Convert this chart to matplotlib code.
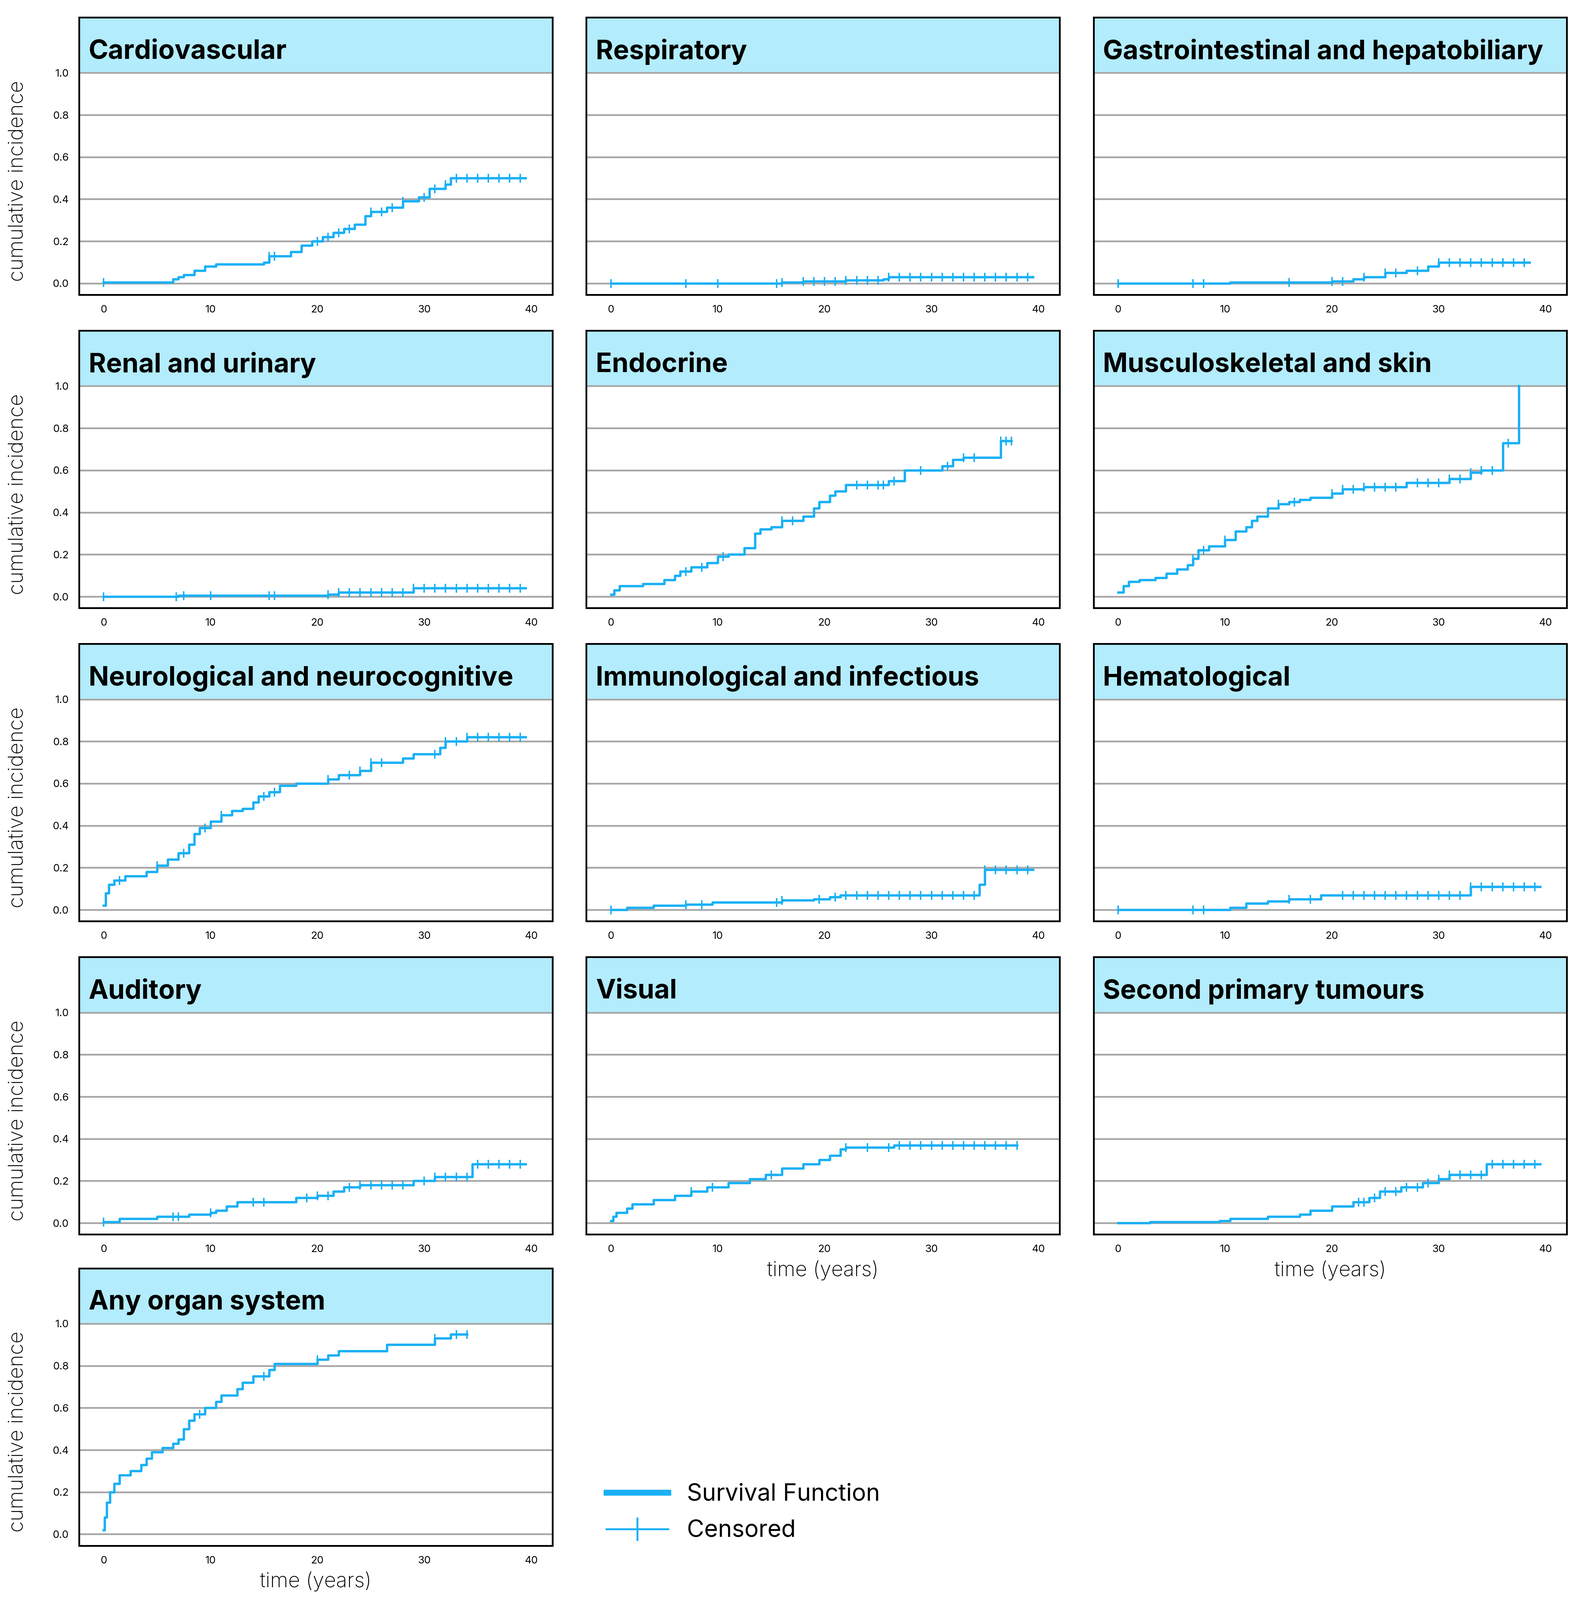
import matplotlib
matplotlib.use("Agg")
import matplotlib.pyplot as plt
from matplotlib.lines import Line2D
import numpy as np

plt.rcParams["font.family"] = "Inter"

titles = ["Cardiovascular", "Respiratory", "Gastrointestinal and hepatobiliary",
          "Renal and urinary", "Endocrine", "Musculoskeletal and skin",
          "Neurological and neurocognitive", "Immunological and infectious", "Hematological",
          "Auditory", "Visual", "Second primary tumours", "Any organ system"]

cv_t = [0, 6.5, 7, 7.5, 8.5, 9.5, 10.5, 15, 15.5, 17.5, 18.5, 19.5, 20.5, 21.5, 22.5, 23.5, 24.5, 25, 26.5, 28, 29.5, 30.5, 32, 32.5, 39.5]
cv_y = [0.005, 0.02, 0.03, 0.04, 0.06, 0.08, 0.09, 0.10, 0.13, 0.15, 0.18, 0.20, 0.22, 0.24, 0.26, 0.28, 0.32, 0.34, 0.36, 0.39, 0.41, 0.45, 0.47, 0.50, 0.50]
cv_c = [0, 15.5, 16, 20, 21, 22, 23, 25, 26, 27, 28, 30, 31, 32, 33, 34, 35, 36, 37, 38, 39]

re_t = [0, 16, 18, 22, 25.5, 26, 39.5]
re_y = [0, 0.005, 0.01, 0.015, 0.02, 0.03, 0.03]
re_c = [0, 7, 10, 15.5, 16, 18, 19, 20, 21, 22, 23, 24, 25, 26, 27, 28, 29, 30, 31, 32, 33, 34, 35, 36, 37, 38, 39]

gi_t = [0, 10.5, 20, 22, 23, 25, 27, 29, 30, 38.5]
gi_y = [0, 0.005, 0.01, 0.02, 0.03, 0.05, 0.06, 0.08, 0.10, 0.10]
gi_c = [0, 7, 8, 16, 20, 21, 23, 25, 26, 28, 30, 31, 32, 33, 34, 35, 36, 37, 38]

rn_t = [0, 7, 21, 22, 29, 39.5]
rn_y = [0, 0.005, 0.01, 0.02, 0.04, 0.04]
rn_c = [0, 6.8, 7.5, 10, 15.5, 16, 21, 22, 23, 24, 25, 26, 27, 28, 29, 30, 31, 32, 33, 34, 35, 36, 37, 38, 39]

en_t = [0, 0.3, 0.8, 3, 5, 6, 6.5, 7.5, 9, 10, 11, 12.5, 13.5, 14, 15, 16, 18, 19, 19.5, 20.5, 21, 22, 26, 27.5, 31, 32, 33, 36.5, 37.5]
en_y = [0.01, 0.03, 0.05, 0.06, 0.08, 0.10, 0.12, 0.14, 0.16, 0.19, 0.20, 0.23, 0.30, 0.32, 0.33, 0.36, 0.38, 0.42, 0.45, 0.48, 0.50, 0.53, 0.55, 0.60, 0.62, 0.65, 0.66, 0.74, 0.74]
en_c = [7, 8.5, 10.5, 16, 17, 23, 24, 25, 25.5, 26.5, 29, 31.5, 33, 34, 36.5, 37, 37.5]

ms_t = [0, 0.5, 1, 2, 3.5, 4.5, 5.5, 6.5, 7, 7.5, 8.5, 10, 11, 12, 12.5, 13, 14, 15, 16, 17, 18, 20, 21, 23, 27, 31, 33, 34, 36, 37.5, 37.5]
ms_y = [0.02, 0.05, 0.07, 0.08, 0.09, 0.11, 0.13, 0.15, 0.18, 0.22, 0.24, 0.27, 0.31, 0.33, 0.36, 0.38, 0.42, 0.44, 0.45, 0.46, 0.47, 0.49, 0.51, 0.52, 0.54, 0.56, 0.59, 0.60, 0.73, 1.0, 1.0]
ms_c = [7, 8, 10, 15, 16.5, 20, 21, 22, 23, 24, 25, 26, 28, 29, 30, 31, 32, 33, 34, 35, 36.5]

ne_t = [0, 0.2, 0.5, 1, 2, 4, 5, 6, 7, 8, 8.5, 9, 10, 11, 12, 13, 14, 14.5, 15.5, 16.5, 18, 21, 22, 24, 25, 28, 29, 31.5, 32, 34, 39.5]
ne_y = [0.02, 0.08, 0.12, 0.14, 0.16, 0.18, 0.21, 0.24, 0.27, 0.31, 0.36, 0.39, 0.42, 0.45, 0.47, 0.48, 0.51, 0.54, 0.56, 0.59, 0.60, 0.62, 0.64, 0.66, 0.70, 0.72, 0.74, 0.77, 0.80, 0.82, 0.82]
ne_c = [1.5, 5, 7.5, 9.5, 11, 15, 16, 21, 23, 24, 25, 26, 31, 32, 33, 34, 35, 36, 37, 38, 39]

im_t = [0, 1.5, 4, 7, 9.5, 16, 19, 20.5, 21.5, 34.5, 35, 39.5]
im_y = [0, 0.01, 0.02, 0.025, 0.035, 0.045, 0.05, 0.06, 0.07, 0.12, 0.19, 0.19]
im_c = [0, 7, 8.5, 15.5, 16, 19.5, 21, 22, 23, 24, 25, 26, 27, 28, 29, 30, 31, 32, 33, 34, 35, 36, 37, 38, 39]

he_t = [0, 10.5, 12, 14, 16, 19, 33, 39.5]
he_y = [0, 0.01, 0.03, 0.04, 0.05, 0.07, 0.11, 0.11]
he_c = [0, 7, 8, 16, 18, 21, 22, 23, 24, 25, 26, 27, 28, 29, 30, 31, 32, 33, 34, 35, 36, 37, 38, 39]

au_t = [0, 1.5, 5, 8, 10, 10.5, 11.5, 12.5, 18, 20, 21.5, 22.5, 24, 29, 31, 34.5, 39.5]
au_y = [0.005, 0.02, 0.03, 0.04, 0.05, 0.06, 0.08, 0.10, 0.12, 0.13, 0.15, 0.17, 0.18, 0.20, 0.22, 0.28, 0.28]
au_c = [0, 6.5, 7, 10, 14, 15, 19, 20, 21, 23, 24, 25, 26, 27, 28, 30, 31, 32, 33, 34, 35, 36, 37, 38, 39]

vi_t = [0, 0.2, 0.5, 1.5, 2, 4, 6, 7.5, 9, 11, 13, 14.5, 16, 18, 19.5, 20.5, 21.5, 22, 26.5, 38]
vi_y = [0.01, 0.03, 0.05, 0.07, 0.09, 0.11, 0.13, 0.15, 0.17, 0.19, 0.21, 0.23, 0.26, 0.28, 0.30, 0.32, 0.35, 0.36, 0.37, 0.37]
vi_c = [7.5, 9.5, 15, 22, 24, 26, 27, 28, 29, 30, 31, 32, 33, 34, 35, 36, 37, 38]

sp_t = [0, 3, 9.5, 10.5, 14, 17, 18, 20, 22, 23.5, 24.5, 26.5, 28.5, 30, 31, 34.5, 39.5]
sp_y = [0, 0.005, 0.01, 0.02, 0.03, 0.04, 0.06, 0.08, 0.10, 0.12, 0.15, 0.17, 0.19, 0.21, 0.23, 0.28, 0.28]
sp_c = [22.5, 23, 24, 25, 26, 27, 28, 29, 30, 31, 32, 33, 34, 35, 36, 37, 38, 39]

an_t = [0, 0.1, 0.3, 0.6, 1, 1.5, 2.5, 3.5, 4, 4.5, 5.5, 6.5, 7, 7.5, 8, 8.5, 9.5, 10.5, 11, 12.5, 13, 14, 15.5, 16, 20, 21, 22, 26.5, 31, 32.5, 34]
an_y = [0.02, 0.08, 0.15, 0.20, 0.24, 0.28, 0.30, 0.33, 0.36, 0.39, 0.41, 0.43, 0.45, 0.50, 0.54, 0.57, 0.60, 0.63, 0.66, 0.69, 0.72, 0.75, 0.78, 0.81, 0.83, 0.85, 0.87, 0.90, 0.93, 0.95, 0.95]
an_c = [9, 15, 20, 31, 33, 34]

series = [(cv_t, cv_y, cv_c), (re_t, re_y, re_c), (gi_t, gi_y, gi_c),
          (rn_t, rn_y, rn_c), (en_t, en_y, en_c), (ms_t, ms_y, ms_c),
          (ne_t, ne_y, ne_c), (im_t, im_y, im_c), (he_t, he_y, he_c),
          (au_t, au_y, au_c), (vi_t, vi_y, vi_c), (sp_t, sp_y, sp_c),
          (an_t, an_y, an_c)]

yticks = [0.0, 0.2, 0.4, 0.6, 0.8, 1.0]
xticks = [0, 10, 20, 30, 40]

COL = "#1ab0f5"
BG = "#b3ecfc"
W, H = 1530.0, 1558.0
fig = plt.figure(figsize=(4430/300, 4511/300), dpi=300)

lefts = [77, 571, 1065]
tops = [17, 322, 627, 932, 1235]
pw, ph = 461, 270

for i, (title, (t, y, c)) in enumerate(zip(titles, series)):
    r, col = divmod(i, 3)
    ax = fig.add_axes([lefts[col]/W, 1 - (tops[r]+ph)/H, pw/W, ph/H])
    ax.set_xlim(-2.3, 42.0)
    ax.set_ylim(-0.054, 1.263)
    ax.axhspan(1.0, 1.3, color=BG, zorder=0)
    for yt in yticks:
        ax.axhline(yt, color="#a8a8a8", lw=1.2, zorder=1)
    ax.step(t, y, where="post", color=COL, lw=1.6, zorder=3)
    cy = np.array(y)[np.searchsorted(t, c, side="right") - 1]
    ax.plot(c, cy, ls="none", marker="|", ms=6, mew=1.0, color=COL, zorder=4)
    ax.set_yticks(yticks)
    if col == 0:
        ax.set_yticklabels([f"{v:.1f}" for v in yticks], fontsize=7)
    else:
        ax.set_yticklabels([])
    ax.set_xticks(xticks)
    ax.set_xticklabels([str(v) for v in xticks], fontsize=7)
    ax.tick_params(length=0, pad=7)
    for s in ax.spines.values():
        s.set_linewidth(1.2)
    ax.text(0.02, 1.10, title, transform=ax.get_yaxis_transform(),
            fontsize=18, fontweight="bold", va="center", ha="left")
    if col == 0:
        ax.set_ylabel("cumulative incidence", fontsize=14, fontweight="light")
        ax.yaxis.set_label_coords(-0.11, 0.41)
    if i in (10, 11, 12):
        ax.set_xlabel("time (years)", fontsize=14, fontweight="light")

handles = [Line2D([], [], color=COL, lw=4, drawstyle="steps-mid"),
           Line2D([], [], color=COL, lw=1.3, marker="|", ms=16, mew=1.3)]
fig.legend(handles, ["Survival Function", "Censored"], loc="center left",
           bbox_to_anchor=(570/W, 1 - 1473/H), frameon=False, fontsize=16,
           handlelength=2.6, labelspacing=0.6)

fig.savefig("out.png", dpi=300)
